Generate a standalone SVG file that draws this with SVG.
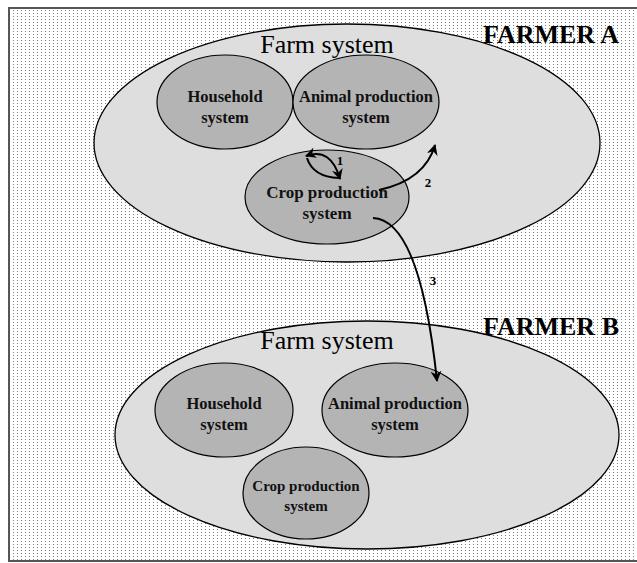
<svg xmlns="http://www.w3.org/2000/svg" width="637" height="563" viewBox="0 0 637 563">
<style>
.outer{fill:#dedede;stroke:#000;stroke-width:1.3}
.inner{fill:#b4b4b4;stroke:#000;stroke-width:1.2}
.lbl{font-family:"Liberation Serif",serif;font-weight:bold;font-size:16.5px;text-anchor:middle;fill:#111}
.sm{font-size:15px}
.farm{font-family:"Liberation Serif",serif;font-size:26px;text-anchor:middle;fill:#000}
.farmer{font-family:"Liberation Serif",serif;font-weight:bold;font-size:26px;text-anchor:middle;fill:#000}
.num{font-family:"Liberation Serif",serif;font-weight:bold;font-size:13px;text-anchor:middle;fill:#000}
.conn{fill:none;stroke:#000;stroke-width:2}
</style>
<defs>
<pattern id="dots" x="0" y="0" width="4" height="3" patternUnits="userSpaceOnUse">
<rect width="4" height="3" fill="#fff"/>
<rect x="1" y="1" width="1" height="1" fill="#808080"/>
</pattern>
<marker id="ah" viewBox="0 0 10 10" refX="9" refY="5" markerWidth="5.5" markerHeight="5.5" orient="auto-start-reverse" markerUnits="strokeWidth">
<path d="M0,0 L10,5 L0,10 L3,5 Z" fill="#000"/>
</marker>
</defs>
<rect x="0" y="0" width="637" height="563" fill="#fff"/>
<rect x="9" y="8" width="640" height="553" fill="url(#dots)" stroke="#555" stroke-width="2"/>
<g id="farmA">
<ellipse class="outer" cx="347" cy="143" rx="253" ry="119"/>
<text class="farm" x="327" y="53">Farm system</text>
</g>
<g id="farmerA"><text class="farmer" x="551" y="43">FARMER A</text></g>
<g id="householdA">
<ellipse class="inner" cx="225" cy="102" rx="68" ry="47"/>
<text class="lbl" x="225" y="102">Household</text>
<text class="lbl" x="225" y="123">system</text>
</g>
<g id="animalA">
<ellipse class="inner" cx="366" cy="102" rx="73" ry="47"/>
<text class="lbl" x="366" y="102">Animal production</text>
<text class="lbl" x="366" y="123">system</text>
</g>
<g id="cropA">
<ellipse class="inner" cx="327" cy="197" rx="82" ry="47"/>
<text class="lbl" x="327" y="198" style="font-size:17px">Crop production</text>
<text class="lbl" x="327" y="219" style="font-size:17px">system</text>
</g>
<g id="farmB">
<ellipse class="outer" cx="367" cy="435" rx="252" ry="114"/>
<text class="farm" x="327" y="349">Farm system</text>
</g>
<g id="farmerB"><text class="farmer" x="551" y="335">FARMER B</text></g>
<g id="householdB">
<ellipse class="inner" cx="224" cy="410" rx="69" ry="47"/>
<text class="lbl" x="224" y="409">Household</text>
<text class="lbl" x="224" y="430">system</text>
</g>
<g id="animalB">
<ellipse class="inner" cx="395" cy="410" rx="73" ry="47"/>
<text class="lbl" x="395" y="409">Animal production</text>
<text class="lbl" x="395" y="430">system</text>
</g>
<g id="cropB">
<ellipse class="inner" cx="306" cy="493" rx="63" ry="46"/>
<text class="lbl sm" x="306" y="491">Crop production</text>
<text class="lbl sm" x="306" y="511">system</text>
</g>
<g id="connectors">
<path class="conn" d="M306,156 Q331,147 340,179" marker-start="url(#ah)" marker-end="url(#ah)"/>
<path class="conn" d="M307,158 Q313,177 339,178"/>
<path class="conn" d="M379,190 Q425,180 435,145" marker-end="url(#ah)"/>
<path class="conn" d="M373,218 Q420,220 437,381" marker-end="url(#ah)"/>
<text class="num" x="340" y="165">1</text>
<text class="num" x="428" y="187">2</text>
<text class="num" x="433" y="285">3</text>
</g>
</svg>
